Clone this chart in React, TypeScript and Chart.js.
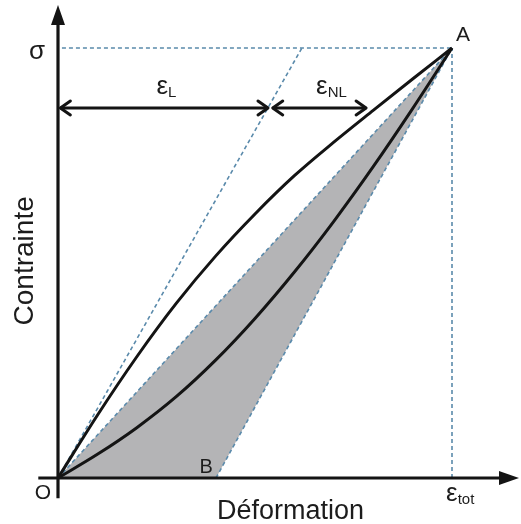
import React, { useEffect, useRef } from "react";
import { Chart, registerables } from "chart.js";

Chart.register(...registerables);

// Loading curve (upper) and unloading curve (lower), in units of ε_tot and σ
const upperX = [0, 0.1, 0.2, 0.3, 0.4, 0.5, 0.6, 0.7, 0.8, 0.9, 1];
const upperY = [0, 0.146, 0.282, 0.406, 0.516, 0.614, 0.703, 0.781, 0.855, 0.928, 1];
const lowerX = [0, 0.1, 0.2, 0.3, 0.4, 0.5, 0.6, 0.7, 0.8, 0.9, 1];
const lowerY = [0, 0.055, 0.117, 0.189, 0.274, 0.371, 0.479, 0.597, 0.724, 0.859, 1];

// Key points
const sigmaLevel = 1;
const epsTot = 1;
const pointB = 0.401;
const elasticTopX = 0.619;
const arrowLevel = 0.8605;
const epsLRange = [0.006, 0.533];
const epsNLRange = [0.545, 0.782];
const xAxisRange = [-0.05, 1.17];
const yAxisRange = [-0.047, 1.1];

const pts = (xs: number[], ys: number[]) => xs.map((x, i) => ({ x, y: ys[i] }));

const INK = "#141414";
const DASH = "#5a8aab";
const FONT = "'Liberation Sans', Arial, sans-serif";

export default function App() {
  const ref = useRef<HTMLCanvasElement>(null);
  useEffect(() => {
    if (!ref.current) return;
    const dashed = (data: any[]) => ({
      data,
      showLine: true,
      borderColor: DASH,
      borderWidth: 1.6,
      borderDash: [4, 3],
      pointRadius: 0,
      fill: false,
      order: 4,
      clip: false as any,
    });
    const solid = (data: any[], w: number, order: number, extra: any = {}) => ({
      data,
      showLine: true,
      borderColor: INK,
      borderWidth: w,
      pointRadius: 0,
      fill: false,
      order,
      clip: false as any,
      ...extra,
    });

    const overlay = {
      id: "overlay",
      afterDatasetsDraw(chart: any) {
        const ctx = chart.ctx as CanvasRenderingContext2D;
        const xs = chart.scales.x;
        const ys = chart.scales.y;
        const px = (v: number) => xs.getPixelForValue(v);
        const py = (v: number) => ys.getPixelForValue(v);
        ctx.save();
        // axis arrowheads (filled)
        ctx.fillStyle = INK;
        const xTip = px(xAxisRange[1]);
        const x0 = py(0);
        ctx.beginPath();
        ctx.moveTo(xTip, x0);
        ctx.lineTo(xTip - 20, x0 - 7);
        ctx.lineTo(xTip - 20, x0 + 7);
        ctx.closePath();
        ctx.fill();
        const yTip = py(yAxisRange[1]);
        const y0 = px(0);
        ctx.beginPath();
        ctx.moveTo(y0, yTip);
        ctx.lineTo(y0 - 7, yTip + 20);
        ctx.lineTo(y0 + 7, yTip + 20);
        ctx.closePath();
        ctx.fill();
        // double arrow chevrons
        ctx.strokeStyle = INK;
        ctx.lineWidth = 3;
        ctx.lineCap = "round";
        ctx.lineJoin = "round";
        const ay = py(arrowLevel);
        const chevron = (x: number, dir: number) => {
          ctx.beginPath();
          ctx.moveTo(x - dir * 10, ay - 7);
          ctx.lineTo(x, ay);
          ctx.lineTo(x - dir * 10, ay + 7);
          ctx.stroke();
        };
        [epsLRange, epsNLRange].forEach((r) => {
          chevron(px(r[0]), -1);
          chevron(px(r[1]), 1);
        });
        // texts
        ctx.fillStyle = "#1c1c1c";
        ctx.textBaseline = "middle";
        const txt = (s: string, x: number, y: number, size: number, align: CanvasTextAlign = "center") => {
          ctx.font = `${size}px ${FONT}`;
          ctx.textAlign = align;
          ctx.fillText(s, x, y);
        };
        const eps = (x: number, y: number, sub: string) => {
          ctx.font = `26px ${FONT}`;
          ctx.textAlign = "left";
          ctx.fillText("ε", x, y);
          const w = ctx.measureText("ε").width;
          ctx.font = `15px ${FONT}`;
          ctx.fillText(sub, x + w, y + 6);
        };
        txt("σ", px(-0.053), py(0.99), 26);
        txt("A", px(1.028), py(1.03), 21);
        txt("O", px(-0.038), py(-0.036), 21);
        txt("B", px(0.376), py(0.024), 20);
        eps(px(0.985), py(-0.037), "tot");
        eps(px(0.25), py(0.91), "L");
        eps(px(0.655), py(0.91), "NL");
        txt("Déformation", px(0.59), py(-0.078), 27);
        ctx.save();
        ctx.translate(px(-0.084), py(0.505));
        ctx.rotate(-Math.PI / 2);
        txt("Contrainte", 0, 0, 28);
        ctx.restore();
        ctx.restore();
      },
    };

    const chart = new Chart(ref.current, {
      type: "scatter",
      data: {
        datasets: [
          {
            data: [
              { x: 0, y: 0 },
              { x: epsTot, y: sigmaLevel },
              { x: pointB, y: 0 },
              { x: 0, y: 0 },
            ],
            showLine: true,
            borderWidth: 0,
            borderColor: "rgba(0,0,0,0)",
            backgroundColor: "#b4b4b6",
            fill: "shape",
            pointRadius: 0,
            order: 6,
            clip: false as any,
          } as any,
          dashed([{ x: 0, y: 0 }, { x: epsTot, y: sigmaLevel }]),
          dashed([{ x: pointB, y: 0 }, { x: epsTot, y: sigmaLevel }]),
          dashed([{ x: 0, y: 0 }, { x: elasticTopX, y: sigmaLevel }]),
          dashed([{ x: 0.01, y: sigmaLevel }, { x: epsTot, y: sigmaLevel }]),
          dashed([{ x: epsTot, y: 0 }, { x: epsTot, y: sigmaLevel }]),
          solid(pts(upperX, upperY), 3, 2, { cubicInterpolationMode: "monotone" }),
          solid(pts(lowerX, lowerY), 3, 2, { cubicInterpolationMode: "monotone" }),
          solid([{ x: xAxisRange[0], y: 0 }, { x: xAxisRange[1] - 0.04, y: 0 }], 3.2, 1),
          solid([{ x: 0, y: yAxisRange[0] }, { x: 0, y: yAxisRange[1] - 0.04 }], 3.2, 1),
          solid([{ x: epsLRange[0], y: arrowLevel }, { x: epsLRange[1], y: arrowLevel }], 3, 1),
          solid([{ x: epsNLRange[0], y: arrowLevel }, { x: epsNLRange[1], y: arrowLevel }], 3, 1),
        ] as any,
      },
      options: {
        animation: false,
        responsive: false,
        devicePixelRatio: 1,
        layout: { padding: 0 },
        plugins: { legend: { display: false }, tooltip: { enabled: false } },
        events: [],
        scales: {
          x: { type: "linear", display: false, min: -58 / 394, max: 463 / 394 },
          y: { type: "linear", display: false, min: -46 / 430, max: 478 / 430 },
        },
      },
      plugins: [overlay],
    });
    return () => chart.destroy();
  }, []);

  return (
    <div style={{ position: "fixed", left: 0, top: 0, width: 521, height: 524, background: "#fff" }}>
      <canvas ref={ref} width={521} height={524} style={{ display: "block" }} />
    </div>
  );
}
